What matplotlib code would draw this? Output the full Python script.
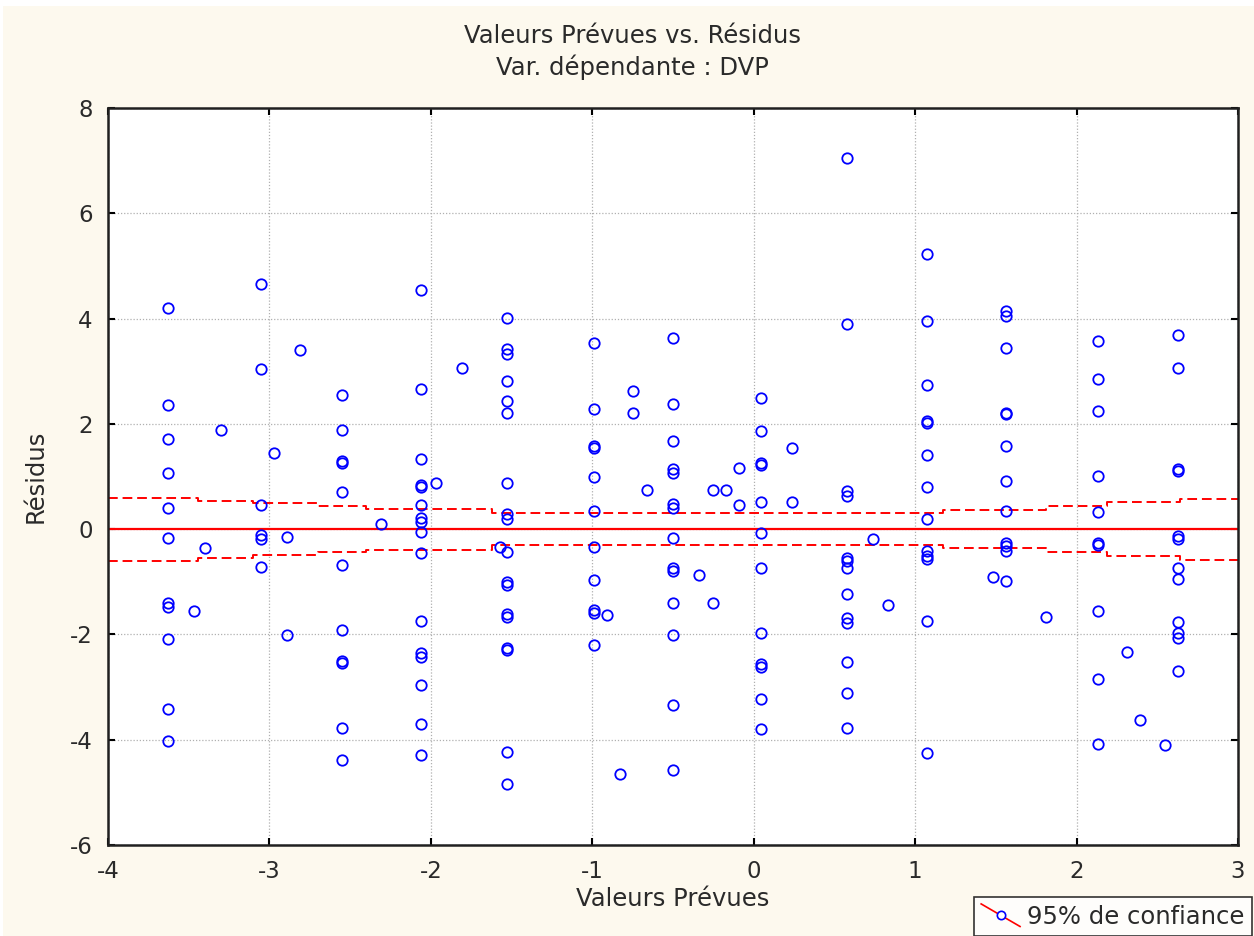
import matplotlib
matplotlib.use("Agg")
import matplotlib.pyplot as plt
from matplotlib.lines import Line2D
from matplotlib.patches import Rectangle
from matplotlib.legend_handler import HandlerBase

plt.rcParams['font.family'] = ['DejaVu Sans']
plt.rcParams['axes.unicode_minus'] = False

# ---- data ----
col_x = [-3.63, -3.05, -2.55, -2.06, -1.53, -0.99, -0.50, 0.045, 0.58, 1.075, 1.565, 2.135, 2.63]
col_resid = [
    [4.21, 2.36, 1.71, 1.07, 0.40, -0.17, -1.41, -1.47, -2.08, -3.42, -4.02],
    [4.65, 3.05, 0.46, -0.12, -0.18, -0.72],
    [2.55, 1.89, 1.29, 1.25, 0.70, -0.68, -1.92, -2.50, -2.55, -3.77, -4.38],
    [4.55, 2.66, 1.33, 0.83, 0.80, 0.45, 0.21, 0.13, -0.06, -0.46, -1.74, -2.36, -2.42, -2.96, -3.70, -4.29],
    [4.02, 3.43, 3.33, 2.82, 2.44, 2.21, 0.88, 0.29, 0.19, -0.44, -1.01, -1.06, -1.62, -1.67, -2.25, -2.29, -4.23, -4.84],
    [3.54, 2.29, 1.58, 1.55, 0.99, 0.34, -0.34, -0.96, -1.53, -1.59, -2.21],
    [3.64, 2.38, 1.68, 1.14, 1.07, 0.47, 0.40, -0.17, -0.74, -0.80, -1.41, -2.02, -3.35, -4.57],
    [2.50, 1.86, 1.26, 1.22, 0.52, -0.08, -0.73, -1.98, -2.57, -2.62, -3.23, -3.80],
    [7.05, 3.89, 0.72, 0.63, -0.55, -0.61, -0.74, -1.24, -1.68, -1.79, -2.53, -3.12, -3.77],
    [5.22, 3.96, 2.74, 2.06, 2.02, 1.41, 0.80, 0.19, -0.42, -0.51, -0.57, -1.75, -4.25],
    [4.15, 4.04, 3.45, 2.21, 2.19, 1.58, 0.91, 0.34, -0.27, -0.32, -0.42, -0.99],
    [3.58, 2.86, 2.25, 1.01, 0.33, -0.27, -0.31, -1.56, -2.84, -4.08],
    [3.68, 3.07, 1.14, 1.10, -0.13, -0.19, -0.74, -0.95, -1.77, -1.98, -2.07, -2.69],
]
extra_x = [-3.30, -3.40, -3.47, -2.97, -2.81, -2.89, -2.89, -2.31, -1.97, -1.81, -1.57,
           -0.75, -0.75, -0.91, -0.83, -0.66, -0.34, -0.25, -0.25, -0.17, -0.09, -0.09,
           0.24, 0.24, 0.74, 0.83, 1.48, 1.81, 2.31, 2.39, 2.55]
extra_resid = [1.88, -0.36, -1.56, 1.45, 3.41, -0.15, -2.02, 0.10, 0.88, 3.07, -0.34,
               2.63, 2.21, -1.64, -4.65, 0.74, -0.88, -1.40, 0.74, 0.74, 0.46, 1.17,
               1.55, 0.52, -0.18, -1.45, -0.91, -1.67, -2.33, -3.62, -4.10]

band_x = [-4.0, -3.44, -3.10, -2.70, -2.40, -1.62, 1.17, 1.81, 2.19, 2.64, 3.0]
band_hw = [0.60, 0.54, 0.49, 0.44, 0.39, 0.30, 0.36, 0.44, 0.51, 0.58, 0.58]

x_ticks = [-4, -3, -2, -1, 0, 1, 2, 3]
y_ticks = [-6, -4, -2, 0, 2, 4, 6, 8]

title1 = "Valeurs Prévues vs. Résidus"
title2 = "Var. dépendante : DVP"
xlabel = "Valeurs Prévues"
ylabel = "Résidus"
legend_label = "95% de confiance"

# ---- build points ----
pred = []
resid = []
for cx, vals in zip(col_x, col_resid):
    for v in vals:
        pred.append(cx)
        resid.append(v)
pred += extra_x
resid += extra_resid

W, H = 1254, 936
txt = '#2a2a2a'
fs = 17.5
fig = plt.figure(figsize=(W / 100, H / 100), dpi=100, facecolor='white')
cream = '#fdf9ee'
fig.patches.append(Rectangle((3 / W, 0), 1, 1 - 6 / H, transform=fig.transFigure,
                             facecolor=cream, edgecolor='none', zorder=-10))

ax = fig.add_axes([108 / W, (H - 845) / H, (1238 - 108) / W, (845 - 108) / H])
ax.set_facecolor('white')
ax.set_xlim(-4, 3)
ax.set_ylim(-6, 8)
ax.set_xticks(x_ticks)
ax.set_yticks(y_ticks)
ax.grid(True, color='#b0b0b0', linestyle=(0, (1, 1.5)), linewidth=0.9)
ax.set_axisbelow(True)
for s in ax.spines.values():
    s.set_linewidth(1.8)
    s.set_color('#202020')
ax.tick_params(direction='in', length=5, width=1.5, top=True, right=True,
               labelsize=16.5, labelcolor=txt)
ax.tick_params(axis='x', pad=11)
ax.tick_params(axis='y', pad=11)

# zero line and confidence band
ax.axhline(0, color='red', lw=1.6, zorder=2)
ax.plot(band_x, band_hw, color='red', lw=1.4, linestyle=(0, (5, 2.5)),
        drawstyle='steps-post', zorder=2)
ax.plot(band_x, [-h for h in band_hw], color='red', lw=1.4, linestyle=(0, (5, 2.5)),
        drawstyle='steps-post', zorder=2)

ax.plot(pred, resid, linestyle='none', marker='o', ms=7.5, mfc='none', mec='blue',
        mew=1.3, zorder=3)

ax.set_xlabel(xlabel, fontsize=fs, labelpad=3, color=txt)
ax.set_ylabel(ylabel, fontsize=fs, labelpad=16, color=txt)
fig.text(0.5 + 5 / W, 1 - 36 / H, title1, ha='center', va='center', fontsize=fs, color=txt)
fig.text(0.5 + 5 / W, 1 - 67 / H, title2, ha='center', va='center', fontsize=fs, color=txt)


class DiagHandler(HandlerBase):
    def create_artists(self, legend, orig_handle, xdescent, ydescent, width, height,
                       fontsize, trans):
        l = Line2D([-xdescent, width - xdescent], [height - ydescent + 2, -ydescent - 2],
                   color='red', lw=1.2, transform=trans)
        m = Line2D([(width - xdescent) / 2], [(height - ydescent) / 2], marker='o',
                   ms=6, mfc='white', mec='blue', mew=1.2, linestyle='none',
                   transform=trans)
        return [l, m]


h = Line2D([], [], color='red')
leg = fig.legend([h], [legend_label], handler_map={Line2D: DiagHandler()},
                 loc='lower right', bbox_to_anchor=(1 - 2 / W, 0), fontsize=fs,
                 frameon=True, fancybox=False, borderaxespad=0, handlelength=1.6,
                 handletextpad=0.3, borderpad=0.3)
for t in leg.get_texts():
    t.set_color(txt)
leg.get_frame().set_edgecolor('black')
leg.get_frame().set_linewidth(1.2)
leg.get_frame().set_facecolor('white')

fig.savefig('out.png', dpi=100, facecolor=fig.get_facecolor())
